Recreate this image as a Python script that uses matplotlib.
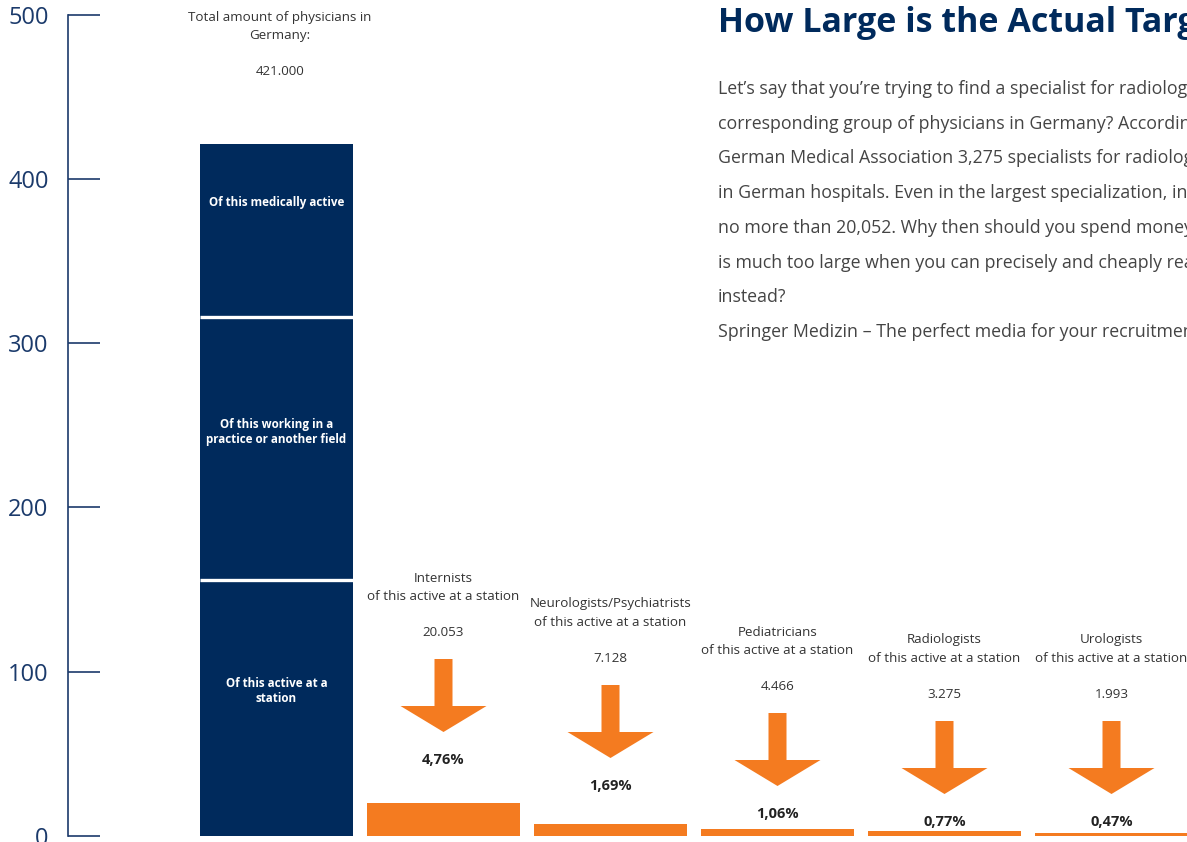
import numpy as np
import matplotlib
matplotlib.use("Agg")
import matplotlib.pyplot as plt
from matplotlib.patches import Polygon

plt.rcParams['font.family'] = ['Open Sans', 'DejaVu Sans']

# data (thousands of physicians)
total = 421.0
stack_labels = ["Of this active at a\nstation",
                "Of this working in a\npractice or another field",
                "Of this medically active"]
stack_values = [156, 160, 105]

specialties = ["Internists", "Neurologists/Psychiatrists", "Pediatricians",
               "Radiologists", "Urologists"]
spec_values = [20.053, 7.128, 4.466, 3.275, 1.993]
spec_value_text = ["20.053", "7.128", "4.466", "3.275", "1.993"]
spec_share = ["4,76%", "1,69%", "1,06%", "0,77%", "0,47%"]

yticks = [0, 100, 200, 300, 400, 500]

body_lines = [
    "Let\u2019s say that you\u2019re trying to find a specialist for radiology",
    "corresponding group of physicians in Germany? According",
    "German Medical Association 3,275 specialists for radiology",
    "in German hospitals. Even in the largest specialization, int",
    "no more than 20,052. Why then should you spend money",
    "is much too large when you can precisely and cheaply reach",
    "instead?",
    "Springer Medizin \u2013 The perfect media for your recruitment",
]

navy = "#002a5c"
orange = "#f47b20"
axis_col = "#1b3a6b"

W, H = 1187, 842
fig = plt.figure(figsize=(W / 100, H / 100), dpi=100)
ax = fig.add_axes([68 / W, 6 / H, 1 - 68 / W, 821.5 / H])

# layout helpers: pixel (from top-left) -> data coords
PX = 500 / 821.5
def xp(px):
    return (px - 276.5) / 167.0
def yp(py):
    return (836 - py) * PX

ax.set_xlim(xp(68), xp(W))
ax.set_ylim(0, 500)

# navy stacked bar
label_shift = [10, 10, 17]
bottoms = np.concatenate([[0], np.cumsum(stack_values)[:-1]])
ax.bar(np.zeros(len(stack_values)), stack_values, bottom=bottoms, width=0.916,
       color=navy, linewidth=0)
ax.hlines(bottoms[1:], -0.458, 0.458, colors="white", linewidth=2.4)
for b, val, lab, sh in zip(bottoms, stack_values, stack_labels, label_shift):
    ax.text(0, b + val / 2 + sh, lab, ha="center", va="center",
            color="white", fontsize=8.4, fontweight="bold", linespacing=1.2)

ax.text(0.02, yp(17), "Total amount of physicians in", ha="center", va="center",
        fontsize=9.6, color="#333333")
ax.text(0.02, yp(35), "Germany:", ha="center", va="center",
        fontsize=9.6, color="#333333")
ax.text(0.02, yp(71), f"{total * 1000:,.0f}".replace(",", "."), ha="center",
        va="center", fontsize=9.6, color="#333333")

# orange bars
xs = np.arange(1, len(specialties) + 1)
ax.bar(xs, spec_values, width=0.916, color=orange, linewidth=0)

tip_px = [732, 758, 786, 794, 794]
head_h, shaft_h = 26 * PX, 47 * PX
head_hw, shaft_hw = 43 / 167, 9 / 167
for x, name, vtxt, share, tp in zip(xs, specialties, spec_value_text,
                                     spec_share, tip_px):
    ty = yp(tp)
    pts = [(x - shaft_hw, ty + head_h + shaft_h), (x + shaft_hw, ty + head_h + shaft_h),
           (x + shaft_hw, ty + head_h), (x + head_hw, ty + head_h), (x, ty),
           (x - head_hw, ty + head_h), (x - shaft_hw, ty + head_h)]
    ax.add_patch(Polygon(pts, closed=True, color=orange, lw=0))
    ax.text(x, yp(tp - 154), name, ha="center", va="center", fontsize=9.6,
            color="#333333")
    ax.text(x, yp(tp - 135), "of this active at a station", ha="center",
            va="center", fontsize=9.6, color="#333333")
    ax.text(x, yp(tp - 99), vtxt, ha="center", va="center", fontsize=9.6,
            color="#333333")
    ax.text(x, yp(tp + 28), share, ha="center", va="center", fontsize=10.5,
            fontweight="bold", color="#222222")

# title and body text
ax.text(xp(718), yp(32), "How Large is the Actual Target Group?", ha="left",
        va="baseline", fontsize=24.5, fontweight="bold", color=navy)
for i, line in enumerate(body_lines):
    ax.text(xp(718), yp(94 + i * 34.7), line, ha="left", va="baseline",
            fontsize=12.8, color="#444444")

# axis styling
for s in ["top", "right", "bottom"]:
    ax.spines[s].set_visible(False)
ax.spines["left"].set_color(axis_col)
ax.spines["left"].set_linewidth(1.2)
ax.set_xticks([])
ax.set_yticks(yticks)
ax.tick_params(axis="y", direction="in", length=23, width=1.2, color=axis_col,
               labelcolor=axis_col, labelsize=17, pad=14)
ax.patch.set_alpha(0)

fig.savefig("out.png", dpi=100)
